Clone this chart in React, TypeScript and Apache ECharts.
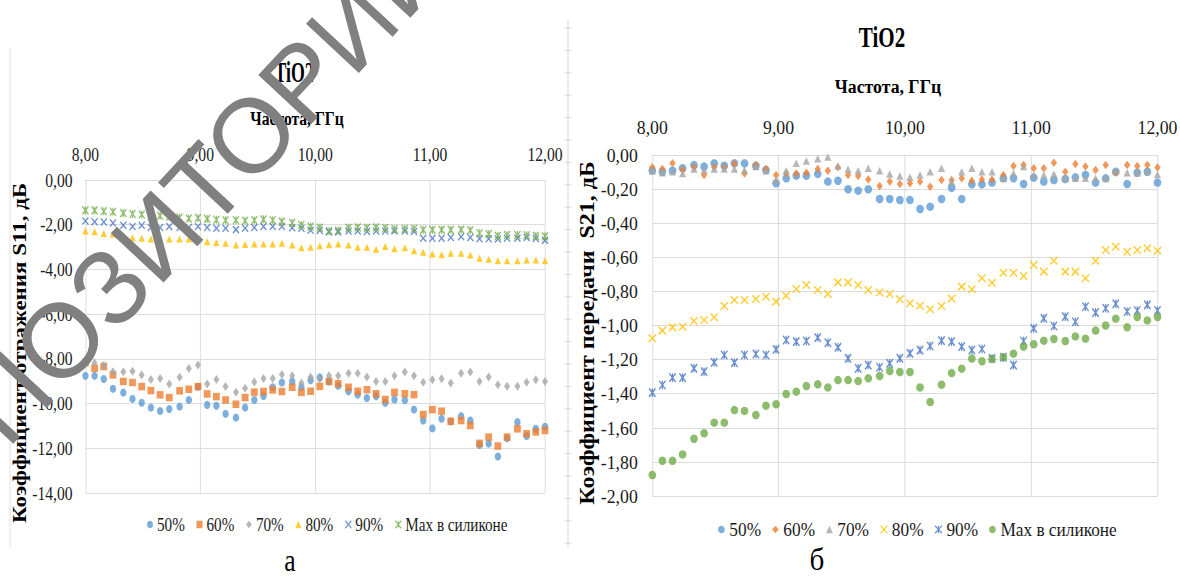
import React, { useEffect, useRef } from "react";
import * as echarts from "echarts";

// ---------- data ----------
const freqGHz = [8.00, 8.08, 8.16, 8.24, 8.33, 8.41, 8.49, 8.57, 8.65, 8.73, 8.82, 8.90, 8.98, 9.06, 9.14, 9.22, 9.31, 9.39, 9.47, 9.55, 9.63, 9.71, 9.80, 9.88, 9.96, 10.04, 10.12, 10.20, 10.29, 10.37, 10.45, 10.53, 10.61, 10.69, 10.78, 10.86, 10.94, 11.02, 11.10, 11.18, 11.27, 11.35, 11.43, 11.51, 11.59, 11.67, 11.76, 11.84, 11.92, 12.00];

const seriesNames = ["50%", "60%", "70%", "80%", "90%", "Мах в силиконе"];

// S11 (left chart, "а")
const s11_50 = [-8.76, -8.76, -8.90, -9.34, -9.51, -9.79, -9.96, -10.18, -10.33, -10.24, -10.13, -9.84, -9.25, -10.06, -10.10, -10.46, -10.63, -10.18, -9.84, -9.66, -9.27, -9.06, -9.01, -9.27, -8.96, -8.83, -9.01, -9.20, -9.45, -9.60, -9.75, -9.67, -9.97, -9.82, -9.85, -10.27, -10.76, -11.11, -10.68, -10.80, -10.56, -10.76, -11.85, -11.79, -12.37, -11.55, -10.83, -11.45, -11.13, -11.04];
const s11_60 = [-8.16, -8.42, -8.34, -8.72, -9.01, -9.06, -9.24, -9.42, -9.61, -9.73, -9.43, -9.36, -9.24, -9.57, -9.69, -9.84, -10.03, -9.73, -9.49, -9.46, -9.39, -9.46, -9.27, -9.50, -9.45, -9.23, -9.01, -9.11, -9.27, -9.45, -9.38, -9.56, -9.82, -9.50, -9.56, -9.60, -10.49, -10.27, -10.34, -10.79, -10.76, -10.98, -11.78, -11.50, -11.90, -11.50, -11.13, -11.35, -11.27, -11.20];
const s11_70 = [-8.05, -8.19, -8.29, -8.58, -8.58, -8.55, -8.72, -8.92, -8.88, -9.12, -8.82, -8.43, -8.27, -9.13, -8.92, -9.24, -9.49, -9.32, -9.04, -8.88, -8.88, -8.70, -8.76, -9.08, -8.81, -8.89, -8.76, -8.76, -8.64, -8.64, -8.81, -9.01, -9.01, -8.76, -8.59, -8.76, -9.05, -8.93, -8.89, -9.08, -8.64, -8.59, -9.01, -8.81, -9.16, -9.23, -9.23, -9.05, -8.93, -9.01];
const s11_80 = [-2.28, -2.31, -2.39, -2.42, -2.50, -2.58, -2.61, -2.64, -2.68, -2.64, -2.64, -2.64, -2.68, -2.76, -2.79, -2.83, -2.91, -2.88, -2.86, -2.86, -2.86, -2.83, -2.91, -3.03, -3.01, -2.94, -2.90, -2.86, -2.91, -3.01, -3.01, -3.10, -2.98, -3.07, -3.03, -3.16, -3.23, -3.31, -3.34, -3.28, -3.28, -3.35, -3.50, -3.55, -3.61, -3.61, -3.61, -3.58, -3.58, -3.61];
const s11_90 = [-1.83, -1.87, -1.88, -1.92, -2.02, -2.08, -2.02, -2.12, -2.12, -2.08, -2.12, -2.12, -2.08, -2.12, -2.16, -2.16, -2.22, -2.16, -2.12, -2.08, -2.08, -2.08, -2.14, -2.16, -2.25, -2.26, -2.32, -2.32, -2.28, -2.28, -2.30, -2.28, -2.28, -2.28, -2.28, -2.30, -2.61, -2.61, -2.61, -2.57, -2.54, -2.57, -2.63, -2.63, -2.64, -2.61, -2.60, -2.57, -2.62, -2.70];
const s11_max = [-1.36, -1.36, -1.40, -1.42, -1.48, -1.52, -1.54, -1.62, -1.60, -1.64, -1.68, -1.72, -1.70, -1.74, -1.78, -1.80, -1.80, -1.82, -1.80, -1.76, -1.80, -1.86, -1.92, -2.01, -2.08, -2.13, -2.28, -2.26, -2.14, -2.12, -2.14, -2.12, -2.15, -2.19, -2.18, -2.18, -2.23, -2.23, -2.23, -2.23, -2.22, -2.25, -2.38, -2.42, -2.50, -2.46, -2.46, -2.47, -2.50, -2.52];

// S21 (right chart, "б")
const s21_50 = [-0.092, -0.098, -0.092, -0.078, -0.059, -0.068, -0.049, -0.063, -0.049, -0.049, -0.063, -0.088, -0.166, -0.137, -0.121, -0.121, -0.111, -0.156, -0.151, -0.201, -0.209, -0.201, -0.258, -0.258, -0.264, -0.264, -0.317, -0.303, -0.258, -0.192, -0.258, -0.172, -0.172, -0.162, -0.137, -0.137, -0.170, -0.133, -0.156, -0.147, -0.141, -0.131, -0.117, -0.162, -0.137, -0.098, -0.170, -0.104, -0.098, -0.162];
const s21_60 = [-0.072, -0.082, -0.049, -0.088, -0.072, -0.117, -0.072, -0.072, -0.053, -0.108, -0.059, -0.082, -0.117, -0.108, -0.108, -0.104, -0.082, -0.092, -0.072, -0.117, -0.123, -0.143, -0.182, -0.156, -0.170, -0.166, -0.156, -0.186, -0.147, -0.147, -0.137, -0.151, -0.143, -0.143, -0.117, -0.065, -0.059, -0.078, -0.078, -0.045, -0.098, -0.053, -0.068, -0.088, -0.059, -0.104, -0.059, -0.065, -0.059, -0.073];
const s21_70 = [-0.092, -0.104, -0.098, -0.108, -0.082, -0.088, -0.082, -0.082, -0.082, -0.088, -0.068, -0.092, -0.147, -0.092, -0.049, -0.035, -0.022, -0.012, -0.065, -0.084, -0.092, -0.078, -0.092, -0.111, -0.123, -0.131, -0.117, -0.098, -0.078, -0.156, -0.098, -0.078, -0.098, -0.098, -0.137, -0.107, -0.068, -0.117, -0.117, -0.111, -0.137, -0.137, -0.137, -0.137, -0.137, -0.094, -0.104, -0.104, -0.094, -0.114];
const s21_80 = [-1.075, -1.030, -1.011, -1.007, -0.974, -0.968, -0.952, -0.886, -0.850, -0.850, -0.845, -0.831, -0.860, -0.825, -0.786, -0.762, -0.792, -0.815, -0.747, -0.747, -0.762, -0.792, -0.806, -0.815, -0.846, -0.870, -0.884, -0.905, -0.886, -0.841, -0.772, -0.788, -0.723, -0.749, -0.690, -0.690, -0.710, -0.645, -0.684, -0.620, -0.684, -0.684, -0.723, -0.620, -0.557, -0.538, -0.567, -0.557, -0.547, -0.561];
const s21_90 = [-1.394, -1.349, -1.306, -1.306, -1.251, -1.271, -1.216, -1.173, -1.218, -1.173, -1.167, -1.173, -1.140, -1.085, -1.095, -1.091, -1.071, -1.101, -1.128, -1.193, -1.251, -1.232, -1.245, -1.222, -1.193, -1.163, -1.144, -1.120, -1.089, -1.095, -1.124, -1.144, -1.138, -1.193, -1.186, -1.232, -1.091, -1.017, -0.958, -1.003, -0.948, -0.978, -0.890, -0.924, -0.899, -0.873, -0.918, -0.912, -0.879, -0.912];
const s21_max = [-1.877, -1.793, -1.793, -1.756, -1.664, -1.632, -1.570, -1.570, -1.496, -1.501, -1.525, -1.470, -1.462, -1.402, -1.388, -1.355, -1.345, -1.363, -1.320, -1.320, -1.326, -1.310, -1.296, -1.267, -1.273, -1.273, -1.363, -1.449, -1.347, -1.279, -1.253, -1.194, -1.210, -1.196, -1.186, -1.165, -1.124, -1.110, -1.089, -1.079, -1.091, -1.064, -1.077, -1.03, -1.00, -0.96, -1.01, -0.95, -0.97, -0.95];

// axis settings
const xMin = 8, xMax = 12, xStep = 1;
const s11Min = -14, s11Max = 0, s11Step = 2;
const s21Min = -2, s21Max = 0, s21Step = 0.2;

// ---------- style ----------
const SL = 0.8;   // horizontal squeeze of left picture
const SR = 0.91;  // horizontal squeeze of right picture
const H = 577;
const LEFT_W = 575;
const RIGHT_W = 605;
const SERIF = "Liberation Serif";
const TXT = "#1a1a1a";
const GRID = "#D9D9D9";
const C = { blue: "#5B9BD5", orange: "#ED7D31", gray: "#A5A5A5", yellow: "#FFC000", dblue: "#4472C4", green: "#70AD47" };
const X_PATH = "path://M0,0L10,10M10,0L0,10";
const STAR_PATH = "path://M0,0L10,10M10,0L0,10M5,0L5,10";

const fmt = (v: number) => (Math.abs(v) < 1e-9 ? 0 : v).toFixed(2).replace(".", ",");

function scatter(name: string, values: number[], symbol: string, size: any, color: string, stroked = false) {
  return {
    type: "scatter",
    name,
    data: values.map((v, i) => [freqGHz[i], v]),
    symbol,
    symbolSize: size,
    itemStyle: stroked ? { color: "rgba(0,0,0,0)", borderColor: color, borderWidth: 1.5 } : { color },
    emphasis: { scale: false },
  };
}

function axes(gridLeft: number, gridTop: number, gridW: number, gridH: number, yMin: number, yMax: number, yStep: number, xMargin: number, yMargin: number) {
  const label = { formatter: fmt, fontFamily: SERIF, fontSize: 19.5, color: TXT };
  return {
    grid: { left: gridLeft, top: gridTop, width: gridW, height: gridH },
    xAxis: {
      type: "value", position: "top", min: xMin, max: xMax, interval: xStep,
      axisLine: { show: true, lineStyle: { color: GRID } },
      axisTick: { show: false },
      axisLabel: { ...label, margin: xMargin },
      splitLine: { show: true, lineStyle: { color: GRID, width: 1 } },
    },
    yAxis: {
      type: "value", min: yMin, max: yMax, interval: yStep,
      axisLine: { show: false },
      axisTick: { show: false },
      axisLabel: { ...label, margin: yMargin },
      splitLine: { show: true, lineStyle: { color: GRID, width: 1 } },
    },
  };
}

function txt(text: string, x: number, y: number, size: number, bold: boolean, extra: any = {}) {
  return {
    type: "text", x, y, z: 50, ...extra,
    style: { text, fontSize: size, fontFamily: SERIF, fontWeight: bold ? "bold" : "normal", fill: "#000", align: "center", verticalAlign: "middle" },
  };
}

function leftOption() {
  const X = (px: number) => px / SL;
  const notches: any[] = [];
  for (let y = 28; y < 547; y += 22.4) {
    notches.push({ type: "line", shape: { x1: X(565), y1: y, x2: X(571), y2: y }, style: { stroke: "#D0D0D0", lineWidth: 1 } });
  }
  return {
    animation: false,
    ...axes(X(85.4), 180, X(545) - X(85.4), 313, s11Min, s11Max, s11Step, 16, 16),
    legend: {
      left: X(147), top: 515, padding: 0, itemWidth: 7.5, itemHeight: 7.5, itemGap: 14.5,
      textStyle: { fontFamily: SERIF, fontSize: 19, color: TXT },
      data: seriesNames.map((n, i) => (i >= 4 ? { name: n, itemStyle: { borderWidth: 1.2 } } : n)),
    },
    graphic: [
      { type: "line", shape: { x1: X(10), y1: 48, x2: X(10), y2: 547 }, style: { stroke: "#DDDDDD", lineWidth: 1 } },
      { type: "line", shape: { x1: X(568), y1: 20, x2: X(568), y2: 547 }, style: { stroke: "#D0D0D0", lineWidth: 1 } },
      ...notches,
      txt("TiO2", X(294), 72, 30, true, { scaleX: 0.74 }),
      txt("Частота, ГГц", X(297), 118, 19.5, true),
      txt("Коэффициент отражения S11, дБ", X(20), 353, 23, true, { rotation: Math.PI / 2 }),
      txt("а", X(290), 560, 32, false),
      {
        type: "group", x: X(205), y: 184.5, scaleX: 1 / SL, z: 100,
        children: [{
          type: "text", z: 100, rotation: (47 * Math.PI) / 180,
          style: { text: "ПОЗИТОРИЙ", fontSize: 105, fontFamily: "Liberation Sans", fill: "#808080", align: "center", verticalAlign: "middle" },
        }],
      },
    ],
    series: [
      scatter(seriesNames[0], s11_50, "circle", 8, C.blue),
      scatter(seriesNames[1], s11_60, "rect", [8.5, 7.5], C.orange),
      scatter(seriesNames[2], s11_70, "diamond", [7.5, 9], C.gray),
      scatter(seriesNames[3], s11_80, "triangle", [8, 7], C.yellow),
      scatter(seriesNames[4], s11_90, X_PATH, [7.5, 7], C.dblue, true),
      scatter(seriesNames[5], s11_max, STAR_PATH, [7.5, 8], C.green, true),
    ],
  };
}

function rightOption() {
  const X = (px: number) => (px - LEFT_W) / SR;
  return {
    animation: false,
    ...axes(X(652.3), 155, X(1158) - X(652.3), 341, s21Min, s21Max, s21Step, 18, 16),
    legend: {
      left: X(718), top: 520, padding: 0, itemWidth: 7.5, itemHeight: 7.5, itemGap: 12,
      textStyle: { fontFamily: SERIF, fontSize: 19, color: TXT },
      data: seriesNames.map((n, i) => (i === 3 || i === 4 ? { name: n, itemStyle: { borderWidth: 1.2 } } : n)),
    },
    graphic: [
      txt("TiO2", X(882), 37, 30, true, { scaleX: 0.77 }),
      txt("Частота, ГГц", X(888), 86, 19.5, true),
      txt("Коэффициент передачи  S21, дБ", X(587), 333, 24, true, { rotation: Math.PI / 2 }),
      txt("б", X(817), 560, 32, false),
    ],
    series: [
      scatter(seriesNames[0], s21_50, "circle", 8.5, C.blue),
      scatter(seriesNames[1], s21_60, "diamond", [7, 8.5], C.orange),
      scatter(seriesNames[2], s21_70, "triangle", [8, 7.5], C.gray),
      scatter(seriesNames[3], s21_80, X_PATH, [8, 7.5], C.yellow, true),
      scatter(seriesNames[4], s21_90, STAR_PATH, [7, 8.5], C.dblue, true),
      scatter(seriesNames[5], s21_max, "circle", 8.5, C.green),
    ],
  };
}

export default function App() {
  const leftRef = useRef<HTMLDivElement>(null);
  const rightRef = useRef<HTMLDivElement>(null);
  useEffect(() => {
    const l = echarts.init(leftRef.current!, null, { renderer: "svg" });
    l.setOption(leftOption() as any);
    const r = echarts.init(rightRef.current!, null, { renderer: "svg" });
    r.setOption(rightOption() as any);
    return () => {
      l.dispose();
      r.dispose();
    };
  }, []);
  return (
    <div style={{ position: "fixed", left: 0, top: 0, width: 1180, height: H, overflow: "hidden", background: "#fff" }}>
      <div
        ref={leftRef}
        style={{ position: "absolute", left: 0, top: 0, width: LEFT_W / SL, height: H, transform: `scaleX(${SL})`, transformOrigin: "0 0" }}
      />
      <div
        ref={rightRef}
        style={{ position: "absolute", left: LEFT_W, top: 0, width: RIGHT_W / SR, height: H, transform: `scaleX(${SR})`, transformOrigin: "0 0" }}
      />
    </div>
  );
}
